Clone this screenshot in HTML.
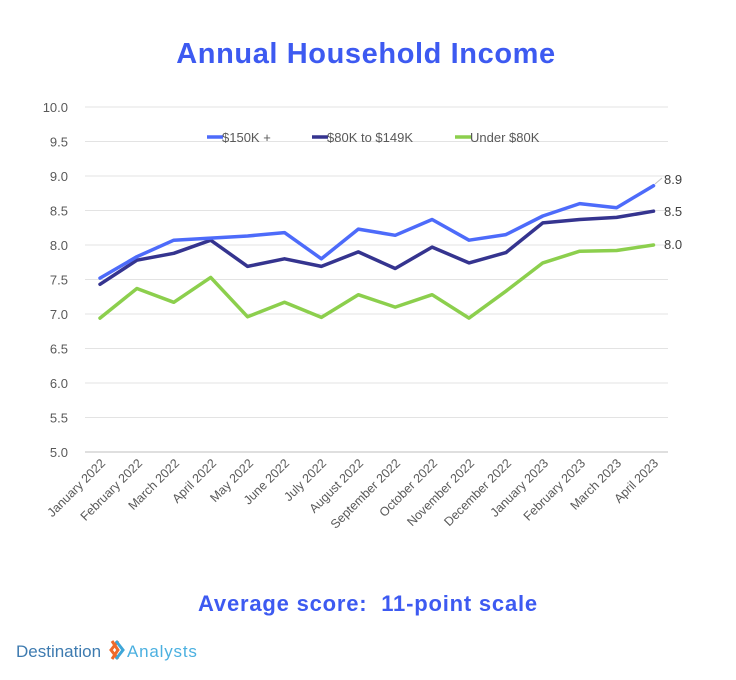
<!DOCTYPE html>
<html><head><meta charset="utf-8"><style>
body{margin:0;background:#fff;width:736px;height:675px;overflow:hidden;font-family:"Liberation Sans",sans-serif}
</style></head><body>
<svg width="736" height="675" xmlns="http://www.w3.org/2000/svg" font-family="Liberation Sans, sans-serif">
<text x="366" y="63" text-anchor="middle" font-size="29" font-weight="bold" fill="#3d5af1" letter-spacing="0.6">Annual Household Income</text>
<g stroke="#e3e3e3" stroke-width="1">
<line x1="85" x2="668" y1="107" y2="107"/><line x1="85" x2="668" y1="141.5" y2="141.5"/><line x1="85" x2="668" y1="176" y2="176"/><line x1="85" x2="668" y1="210.5" y2="210.5"/><line x1="85" x2="668" y1="245" y2="245"/><line x1="85" x2="668" y1="279.5" y2="279.5"/><line x1="85" x2="668" y1="314" y2="314"/><line x1="85" x2="668" y1="348.5" y2="348.5"/><line x1="85" x2="668" y1="383" y2="383"/><line x1="85" x2="668" y1="417.5" y2="417.5"/>
</g>
<line x1="85" x2="668" y1="452" y2="452" stroke="#bfbfbf"/>
<g font-size="13" fill="#595959" text-anchor="end">
<text x="68" y="112">10.0</text><text x="68" y="146.5">9.5</text><text x="68" y="181">9.0</text><text x="68" y="215.5">8.5</text><text x="68" y="250">8.0</text><text x="68" y="284.5">7.5</text><text x="68" y="319">7.0</text><text x="68" y="353.5">6.5</text><text x="68" y="388">6.0</text><text x="68" y="422.5">5.5</text><text x="68" y="457">5.0</text>
</g>
<g font-size="12.5" fill="#595959" text-anchor="end">
<text transform="translate(106,464) rotate(-45)">January 2022</text>
<text transform="translate(143,464) rotate(-45)">February 2022</text>
<text transform="translate(180,464) rotate(-45)">March 2022</text>
<text transform="translate(217,464) rotate(-45)">April 2022</text>
<text transform="translate(254,464) rotate(-45)">May 2022</text>
<text transform="translate(290,464) rotate(-45)">June 2022</text>
<text transform="translate(327,464) rotate(-45)">July 2022</text>
<text transform="translate(364,464) rotate(-45)">August 2022</text>
<text transform="translate(401,464) rotate(-45)">September 2022</text>
<text transform="translate(438,464) rotate(-45)">October 2022</text>
<text transform="translate(475,464) rotate(-45)">November 2022</text>
<text transform="translate(512,464) rotate(-45)">December 2022</text>
<text transform="translate(549,464) rotate(-45)">January 2023</text>
<text transform="translate(586,464) rotate(-45)">February 2023</text>
<text transform="translate(622,464) rotate(-45)">March 2023</text>
<text transform="translate(659,464) rotate(-45)">April 2023</text>
</g>
<g fill="none" stroke-width="3.5" stroke-linejoin="round" stroke-linecap="round">
<polyline stroke="#8ccf4d" points="100,318.1 136.9,288.5 173.8,302.3 210.7,277.4 247.6,316.8 284.5,302.3 321.4,317.4 358.3,294.7 395.2,307.1 432.1,294.7 469,318.1 505.9,291.2 542.8,262.9 579.7,251.2 616.6,250.5 653.5,245"/>
<polyline stroke="#35348f" points="100,284.3 136.9,260.2 173.8,253.3 210.7,240.2 247.6,266.4 284.5,258.8 321.4,266.4 358.3,251.9 395.2,268.5 432.1,247.1 469,262.9 505.9,252.6 542.8,222.9 579.7,219.5 616.6,217.4 653.5,211.2"/>
<polyline stroke="#4d6bfa" points="100,278.1 136.9,256.7 173.8,240.2 210.7,238.1 247.6,236 284.5,232.6 321.4,258.8 358.3,229.1 395.2,235.3 432.1,219.5 469,240.2 505.9,234.6 542.8,216 579.7,203.6 616.6,207.7 653.5,185.7"/>
</g>
<line x1="655" y1="184" x2="662" y2="178" stroke="#bfbfbf"/>
<g font-size="13" fill="#404040">
<text x="664" y="184">8.9</text><text x="664" y="216">8.5</text><text x="664" y="249">8.0</text>
</g>
<g font-size="13" fill="#595959">
<line x1="207" x2="223" y1="137" y2="137" stroke="#4d6bfa" stroke-width="3.5"/><text x="222" y="142">$150K +</text>
<line x1="312" x2="328" y1="137" y2="137" stroke="#35348f" stroke-width="3.5"/><text x="327" y="142">$80K to $149K</text>
<line x1="455" x2="471" y1="137" y2="137" stroke="#8ccf4d" stroke-width="3.5"/><text x="470" y="142">Under $80K</text>
</g>
<text x="368" y="611" text-anchor="middle" font-size="22" font-weight="bold" fill="#3d5af1" letter-spacing="0.8" xml:space="preserve">Average score:  11-point scale</text>
<text x="16" y="657" font-size="17" fill="#3e7bb0">Destination</text>
<path d="M112 641 l6 9 -6 9 M118 641 l-7 9 7 9" stroke="#ef6a2a" stroke-width="3" fill="none"/>
<path d="M116 641 l7 9 -7 9" stroke="#3ea6d8" stroke-width="3" fill="none"/>
<text x="127" y="657" font-size="17" fill="#4bb0e0" letter-spacing="0.8">Analysts</text>
</svg>
</body></html>
